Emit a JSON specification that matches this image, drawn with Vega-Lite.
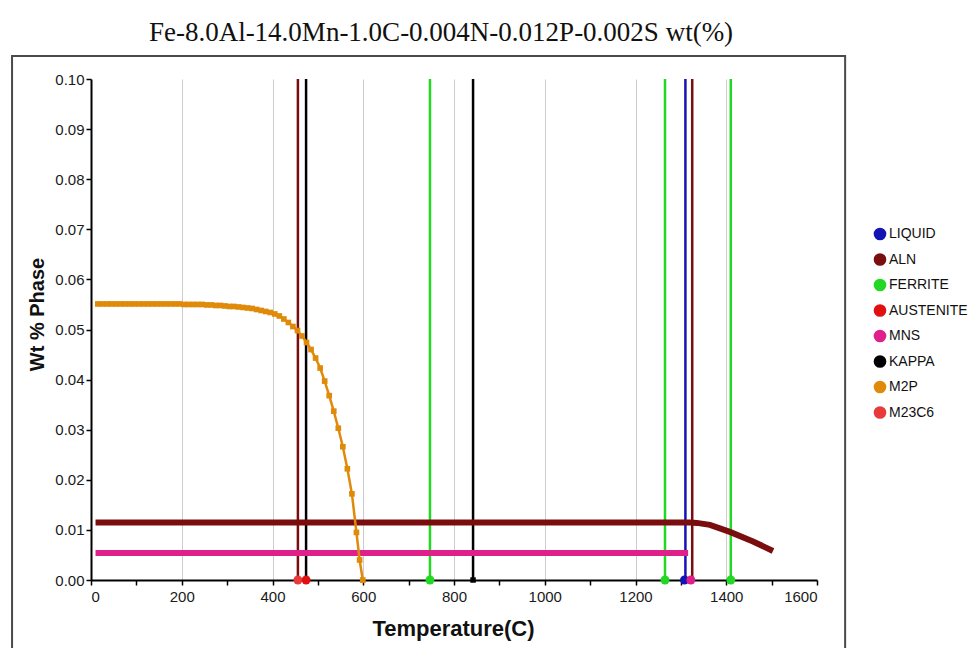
{
  "$schema": "https://vega.github.io/schema/vega-lite/v6.json",
  "width": 726,
  "height": 501,
  "autosize": {"type": "none"},
  "padding": {"left": 91, "top": 79, "right": 162, "bottom": 68},
  "background": "white",
  "title": {
    "text": "Fe-8.0Al-14.0Mn-1.0C-0.004N-0.012P-0.002S wt(%)",
    "font": "Liberation Serif",
    "fontSize": 27,
    "fontWeight": "normal",
    "color": "#111111",
    "anchor": "middle",
    "dx": -13,
    "offset": 8
  },
  "datasets": {
    "bounds": [
      {"phase": "ALN", "T": 456},
      {"phase": "KAPPA", "T": 474},
      {"phase": "FERRITE", "T": 747},
      {"phase": "KAPPA", "T": 842},
      {"phase": "FERRITE", "T": 1265},
      {"phase": "LIQUID", "T": 1310},
      {"phase": "ALN", "T": 1325},
      {"phase": "FERRITE", "T": 1410}
    ],
    "axispts": [
      {"phase": "M23C6", "T": 456},
      {"phase": "AUSTENITE", "T": 474},
      {"phase": "M2P", "T": 599},
      {"phase": "FERRITE", "T": 747},
      {"phase": "KAPPA", "T": 842},
      {"phase": "FERRITE", "T": 1265},
      {"phase": "LIQUID", "T": 1308},
      {"phase": "MNS", "T": 1322},
      {"phase": "FERRITE", "T": 1410}
    ],
    "flat": [
      {"phase": "ALN", "T": 10, "v": 0.0115},
      {"phase": "ALN", "T": 1320, "v": 0.0115},
      {"phase": "ALN", "T": 1335, "v": 0.0114},
      {"phase": "ALN", "T": 1364, "v": 0.0110},
      {"phase": "ALN", "T": 1408, "v": 0.0096},
      {"phase": "ALN", "T": 1459, "v": 0.0077},
      {"phase": "ALN", "T": 1503, "v": 0.0058},
      {"phase": "MNS", "T": 10, "v": 0.0054},
      {"phase": "MNS", "T": 1316, "v": 0.0054}
    ],
    "m2p": [
      {"phase": "M2P", "T": 15, "v": 0.0551},
      {"phase": "M2P", "T": 25, "v": 0.0551},
      {"phase": "M2P", "T": 35, "v": 0.0551},
      {"phase": "M2P", "T": 45, "v": 0.0551},
      {"phase": "M2P", "T": 55, "v": 0.0551},
      {"phase": "M2P", "T": 65, "v": 0.0551},
      {"phase": "M2P", "T": 75, "v": 0.0551},
      {"phase": "M2P", "T": 85, "v": 0.0551},
      {"phase": "M2P", "T": 95, "v": 0.0551},
      {"phase": "M2P", "T": 105, "v": 0.0551},
      {"phase": "M2P", "T": 115, "v": 0.0551},
      {"phase": "M2P", "T": 125, "v": 0.0551},
      {"phase": "M2P", "T": 135, "v": 0.0551},
      {"phase": "M2P", "T": 145, "v": 0.0551},
      {"phase": "M2P", "T": 155, "v": 0.0551},
      {"phase": "M2P", "T": 165, "v": 0.0551},
      {"phase": "M2P", "T": 175, "v": 0.0551},
      {"phase": "M2P", "T": 185, "v": 0.0551},
      {"phase": "M2P", "T": 195, "v": 0.0551},
      {"phase": "M2P", "T": 205, "v": 0.0550},
      {"phase": "M2P", "T": 215, "v": 0.0550},
      {"phase": "M2P", "T": 225, "v": 0.0550},
      {"phase": "M2P", "T": 235, "v": 0.0550},
      {"phase": "M2P", "T": 245, "v": 0.0550},
      {"phase": "M2P", "T": 255, "v": 0.0549},
      {"phase": "M2P", "T": 265, "v": 0.0549},
      {"phase": "M2P", "T": 275, "v": 0.0548},
      {"phase": "M2P", "T": 285, "v": 0.0548},
      {"phase": "M2P", "T": 295, "v": 0.0547},
      {"phase": "M2P", "T": 305, "v": 0.0546},
      {"phase": "M2P", "T": 315, "v": 0.0546},
      {"phase": "M2P", "T": 325, "v": 0.0545},
      {"phase": "M2P", "T": 335, "v": 0.0544},
      {"phase": "M2P", "T": 345, "v": 0.0543},
      {"phase": "M2P", "T": 355, "v": 0.0542},
      {"phase": "M2P", "T": 365, "v": 0.0540},
      {"phase": "M2P", "T": 375, "v": 0.0538},
      {"phase": "M2P", "T": 385, "v": 0.0536},
      {"phase": "M2P", "T": 395, "v": 0.0534},
      {"phase": "M2P", "T": 405, "v": 0.0531},
      {"phase": "M2P", "T": 415, "v": 0.0527},
      {"phase": "M2P", "T": 425, "v": 0.0521},
      {"phase": "M2P", "T": 435, "v": 0.0514},
      {"phase": "M2P", "T": 445, "v": 0.0506},
      {"phase": "M2P", "T": 455, "v": 0.0498},
      {"phase": "M2P", "T": 465, "v": 0.0487},
      {"phase": "M2P", "T": 475, "v": 0.0474},
      {"phase": "M2P", "T": 485, "v": 0.0460},
      {"phase": "M2P", "T": 495, "v": 0.0443},
      {"phase": "M2P", "T": 505, "v": 0.0423},
      {"phase": "M2P", "T": 515, "v": 0.0397},
      {"phase": "M2P", "T": 525, "v": 0.0368},
      {"phase": "M2P", "T": 535, "v": 0.0337},
      {"phase": "M2P", "T": 545, "v": 0.0303},
      {"phase": "M2P", "T": 555, "v": 0.0266},
      {"phase": "M2P", "T": 565, "v": 0.0222},
      {"phase": "M2P", "T": 575, "v": 0.0172},
      {"phase": "M2P", "T": 585, "v": 0.0095},
      {"phase": "M2P", "T": 592, "v": 0.0040},
      {"phase": "M2P", "T": 599, "v": 0.0}
    ]
  },
  "layer": [
    {
      "data": {"name": "bounds"},
      "mark": {"type": "rule", "strokeWidth": 2.5},
      "encoding": {
        "x": {
          "field": "T", "type": "quantitative", "title": "Temperature(C)",
          "scale": {"domain": [0, 1600], "nice": false, "zero": false},
          "axis": {
            "values": [0, 100, 200, 300, 400, 500, 600, 700, 800, 900, 1000, 1100, 1200, 1300, 1400, 1500, 1600],
            "format": "d",
            "labelExpr": "datum.value % 200 == 0 ? datum.label : ''",
            "gridOpacity": {"condition": {"test": "datum.value % 200 == 0 && datum.value > 0 && datum.value < 1600", "value": 1}, "value": 0},
            "labelPadding": 4,
            "titleFontSize": 22,
            "titleX": 362,
            "titleY": 55,
            "titleAlign": "center",
            "titleBaseline": "alphabetic"
          }
        },
        "y": {"datum": 0, "type": "quantitative", "title": "Wt % Phase",
          "scale": {"domain": [0, 0.1], "nice": false, "zero": false},
          "axis": {
            "values": [0, 0.005, 0.01, 0.015, 0.02, 0.025, 0.03, 0.035, 0.04, 0.045, 0.05, 0.055, 0.06, 0.065, 0.07, 0.075, 0.08, 0.085, 0.09, 0.095, 0.1],
            "labelExpr": "round(datum.value*200) % 2 == 0 ? format(datum.value, '.2f') : ''",
            "gridOpacity": {"condition": {"test": "round(datum.value*200) % 2 == 0 && datum.value > 0", "value": 1}, "value": 0},
            "labelPadding": 2,
            "titleFontSize": 20,
            "titleAngle": 270,
            "titleX": -48,
            "titleY": 235,
            "titleAlign": "center",
            "titleBaseline": "alphabetic"
          }
        },
        "y2": {"datum": 0.1},
        "color": {
          "field": "phase", "type": "nominal",
          "scale": {
            "domain": ["LIQUID", "ALN", "FERRITE", "AUSTENITE", "MNS", "KAPPA", "M2P", "M23C6"],
            "range": ["#1414b4", "#7a0e0e", "#22d822", "#e01010", "#e0208a", "#000000", "#e08a0a", "#e83a3a"]
          },
          "legend": {
            "title": null,
            "encode": {"symbols": {"update": {"fill": {"scale": "color", "field": "value"}, "stroke": {"value": "transparent"}, "shape": {"value": "circle"}, "opacity": {"value": 1}}}}
          }
        }
      }
    },
    {
      "data": {"name": "flat"},
      "mark": {"type": "line", "strokeWidth": 6},
      "encoding": {
        "x": {"field": "T", "type": "quantitative", "title": "Temperature(C)"},
        "y": {"field": "v", "type": "quantitative", "title": "Wt % Phase"},
        "color": {"field": "phase", "type": "nominal",
          "legend": {
            "title": null,
            "encode": {"symbols": {"update": {"fill": {"scale": "color", "field": "value"}, "stroke": {"value": "transparent"}, "shape": {"value": "circle"}, "opacity": {"value": 1}}}}
          }
        }
      }
    },
    {
      "data": {"name": "m2p"},
      "mark": {"type": "line", "strokeWidth": 2.5},
      "encoding": {
        "x": {"field": "T", "type": "quantitative", "title": "Temperature(C)"},
        "y": {"field": "v", "type": "quantitative", "title": "Wt % Phase"},
        "color": {"field": "phase", "type": "nominal",
          "legend": {
            "title": null,
            "encode": {"symbols": {"update": {"fill": {"scale": "color", "field": "value"}, "stroke": {"value": "transparent"}, "shape": {"value": "circle"}, "opacity": {"value": 1}}}}
          }
        }
      }
    },
    {
      "data": {"name": "m2p"},
      "mark": {"type": "point", "shape": "square", "filled": true, "size": 32, "opacity": 1},
      "encoding": {
        "x": {"field": "T", "type": "quantitative", "title": "Temperature(C)"},
        "y": {"field": "v", "type": "quantitative", "title": "Wt % Phase"},
        "color": {"field": "phase", "type": "nominal",
          "legend": {
            "title": null,
            "encode": {"symbols": {"update": {"fill": {"scale": "color", "field": "value"}, "stroke": {"value": "transparent"}, "shape": {"value": "circle"}, "opacity": {"value": 1}}}}
          }
        }
      }
    },
    {
      "data": {"name": "axispts"},
      "transform": [{"filter": "datum.phase != 'KAPPA' && datum.phase != 'M2P'"}],
      "mark": {"type": "point", "shape": "circle", "filled": true, "size": 80, "opacity": 1},
      "encoding": {
        "x": {"field": "T", "type": "quantitative", "title": "Temperature(C)"},
        "y": {"datum": 0, "type": "quantitative", "title": "Wt % Phase"},
        "color": {"field": "phase", "type": "nominal",
          "legend": {
            "title": null,
            "encode": {"symbols": {"update": {"fill": {"scale": "color", "field": "value"}, "stroke": {"value": "transparent"}, "shape": {"value": "circle"}, "opacity": {"value": 1}}}}
          }
        }
      }
    },
    {
      "data": {"name": "axispts"},
      "transform": [{"filter": "datum.phase == 'KAPPA'"}],
      "mark": {"type": "point", "shape": "square", "filled": true, "size": 30, "opacity": 1},
      "encoding": {
        "x": {"field": "T", "type": "quantitative", "title": "Temperature(C)"},
        "y": {"datum": 0, "type": "quantitative", "title": "Wt % Phase"},
        "color": {"field": "phase", "type": "nominal",
          "legend": {
            "title": null,
            "encode": {"symbols": {"update": {"fill": {"scale": "color", "field": "value"}, "stroke": {"value": "transparent"}, "shape": {"value": "circle"}, "opacity": {"value": 1}}}}
          }
        }
      }
    },
    {
      "data": {"name": "axispts"},
      "transform": [{"filter": "datum.phase == 'M2P'"}],
      "mark": {"type": "point", "shape": "triangle-up", "filled": true, "size": 40, "opacity": 1},
      "encoding": {
        "x": {"field": "T", "type": "quantitative", "title": "Temperature(C)"},
        "y": {"datum": 0, "type": "quantitative", "title": "Wt % Phase"},
        "color": {"field": "phase", "type": "nominal",
          "legend": {
            "title": null,
            "encode": {"symbols": {"update": {"fill": {"scale": "color", "field": "value"}, "stroke": {"value": "transparent"}, "shape": {"value": "circle"}, "opacity": {"value": 1}}}}
          }
        }
      }
    },
    {
      "data": {"values": [{}]},
      "mark": {"type": "rect", "fill": null, "stroke": "#4a4a4a", "strokeWidth": 2, "clip": false},
      "encoding": {
        "x": {"datum": -174, "type": "quantitative", "title": "Temperature(C)"},
        "x2": {"datum": 1662},
        "y": {"datum": 0.1046, "type": "quantitative", "title": "Wt % Phase"},
        "y2": {"datum": -0.02}
      }
    }
  ],
  "config": {
    "view": {"stroke": null},
    "axis": {
      "domainColor": "#000000",
      "domainWidth": 2,
      "tickColor": "#000000",
      "tickWidth": 1.5,
      "tickSize": 5,
      "labelFont": "Liberation Sans",
      "labelFontSize": 15,
      "labelColor": "#1a1a1a",
      "gridColor": "#cccccc",
      "gridWidth": 1,
      "titleFont": "Liberation Sans",
      "titleFontWeight": "bold",
      "titleColor": "#111111"
    },
    "legend": {
      "orient": "none",
      "legendX": 782,
      "legendY": 148,
      "symbolType": "circle",
      "symbolSize": 160,
      "symbolStrokeWidth": 0,
      "labelFont": "Liberation Sans",
      "labelFontSize": 14,
      "labelColor": "#111111",
      "rowPadding": 11.5,
      "labelOffset": 2,
      "padding": 0
    }
  }
}
